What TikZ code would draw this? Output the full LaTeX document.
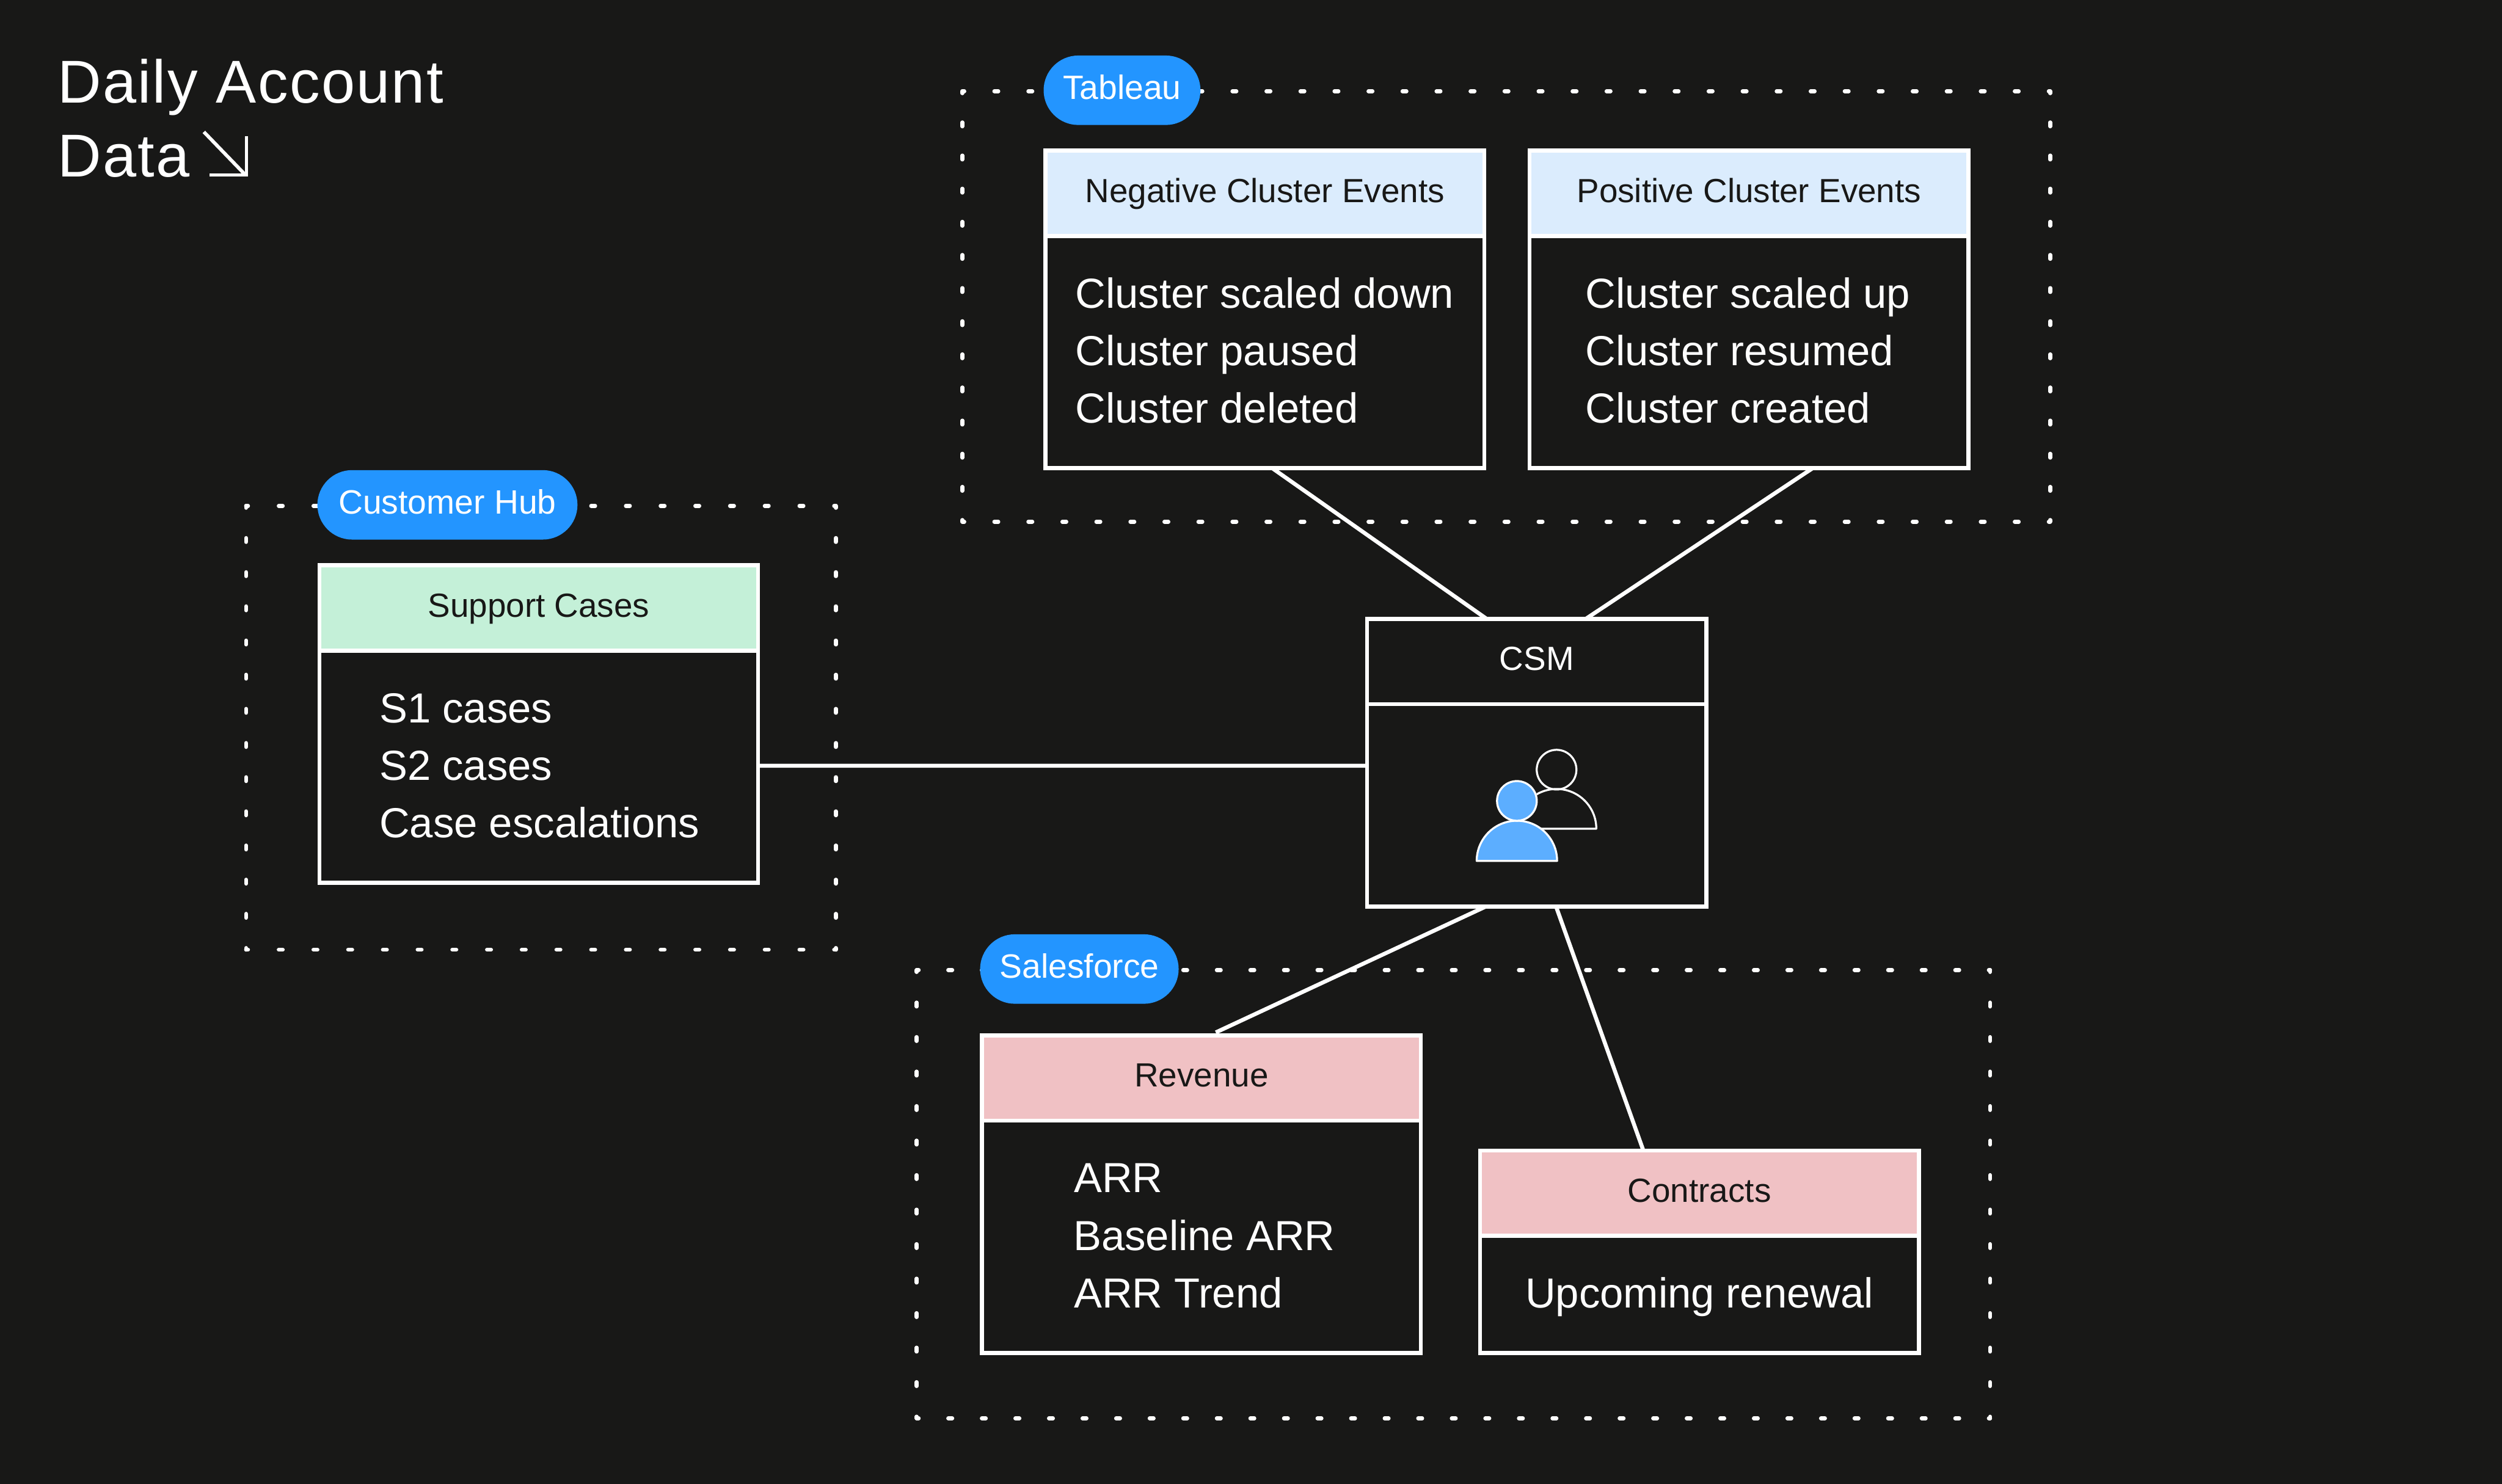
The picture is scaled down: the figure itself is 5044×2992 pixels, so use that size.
\documentclass[tikz,border=0pt]{standalone}
\usepackage{fontspec}
\setmainfont{Liberation Sans}
\newfontfamily\titlefont[LetterSpace=2.4]{Liberation Sans}
\definecolor{bgc}{HTML}{181817}
\definecolor{pillc}{HTML}{2395FF}
\definecolor{iconc}{HTML}{5CAEFF}
\definecolor{headblue}{HTML}{DBECFD}
\definecolor{headgreen}{HTML}{C4F0D8}
\definecolor{headpink}{HTML}{F0C1C4}
\tikzset{
  stroke/.style={draw=white,line width=0.08cm},
  box/.style={rectangle,stroke,fill=bgc,inner sep=0pt,outer sep=0pt,minimum width=8.84cm},
  bodybox/.style={box,minimum height=6.4cm},
  head/.style={box,anchor=north,minimum height=1.72cm,text height=0.50cm,text depth=0.14cm,
    text=bgc,font=\fontsize{19.2pt}{22pt}\selectfont},
  item/.style={inner sep=0pt,outer sep=0pt,anchor=base west,text=white,font=\fontsize{24.1pt}{28pt}\selectfont},
  title/.style={inner sep=0pt,outer sep=0pt,anchor=base west,text=white,font=\titlefont\fontsize{34.7pt}{42pt}\selectfont},
  pill/.style={rectangle,fill=pillc,rounded corners=0.7cm,inner sep=0pt,outer sep=0pt,minimum height=1.4cm,
    text height=0.50cm,text depth=0.14cm,text=white,font=\fontsize{19.35pt}{22pt}\selectfont},
  link/.style={stroke},
  dotline/.style={draw=white,line width=0.08cm,line cap=round,dash phase=0.04cm},
  person/.style={draw=white,line width=0.04cm,line join=round},
}
\newcommand{\dotframe}[6]{%
  \draw[dotline,dash pattern=on 0.08cm off #5cm] (#1,#2) -- (#3,#2);
  \draw[dotline,dash pattern=on 0.08cm off #5cm] (#1,#4) -- (#3,#4);
  \draw[dotline,dash pattern=on 0.08cm off #6cm] (#1,#2) -- (#1,#4);
  \draw[dotline,dash pattern=on 0.08cm off #6cm] (#3,#2) -- (#3,#4);
}
\begin{document}
\begin{tikzpicture}[x=0.01cm,y=-0.01cm]
\useasboundingbox (0,0) rectangle (5044,2992);
\fill[bgc] (0,0) rectangle (5044,2992);

% dotted source frames
\dotframe{1940}{184}{4133}{1052}{0.6053}{0.5877}
\dotframe{496}{1020}{1685}{1915}{0.6194}{0.6085}
\dotframe{1848}{1956}{4012}{2860}{0.5963}{0.6154}

% title
\node[title] (t1) at (116,208) {Daily Account};
\node[title] (t2) at (116,356) {Data};
\draw[white,line width=0.07cm] (411,266) -- (495,353);
\draw[white,line width=0.07cm] (497,275) -- (497,353) -- (422,353);

% Tableau boxes
\node[bodybox] (neg) at (2550,624) {};
\node[head,fill=headblue] (neghead) at (neg.north) {Negative Cluster Events};
\node[item] (neg1) at (2168,621) {Cluster scaled down};
\node[item] (neg2) at (2168,737) {Cluster paused};
\node[item] (neg3) at (2168,853) {Cluster deleted};

\node[bodybox] (pos) at (3526,624) {};
\node[head,fill=headblue] (poshead) at (pos.north) {Positive Cluster Events};
\node[item] (pos1) at (3196,621) {Cluster scaled up};
\node[item] (pos2) at (3196,737) {Cluster resumed};
\node[item] (pos3) at (3196,853) {Cluster created};

% Customer Hub box
\node[bodybox] (sup) at (1086,1460) {};
\node[head,fill=headgreen] (suphead) at (sup.north) {Support Cases};
\node[item] (sup1) at (765,1457) {S1 cases};
\node[item] (sup2) at (765,1573) {S2 cases};
\node[item] (sup3) at (765,1689) {Case escalations};

% Salesforce boxes
\node[bodybox] (rev) at (2422,2408) {};
\node[head,fill=headpink] (revhead) at (rev.north) {Revenue};
\node[item] (rev1) at (2165,2405) {ARR};
\node[item] (rev2) at (2164,2521) {Baseline ARR};
\node[item] (rev3) at (2165,2637) {ARR Trend};

\node[box,minimum height=4.08cm] (con) at (3426,2524) {};
\node[head,fill=headpink] (conhead) at (con.north) {Contracts};
\node[item,anchor=base] (con1) at (3426,2637) {Upcoming renewal};

% CSM box
\node[box,minimum width=6.84cm,minimum height=5.8cm] (csm) at (3098,1538) {};
\node[head,minimum width=6.84cm,text=white] (csmhead) at (csm.north) {CSM};

% people icon
\draw[person] (3058,1671) arc[start angle=180,end angle=0,radius=0.80cm] -- cycle;
\draw[person] (3138,1552) circle[radius=0.40cm];
\fill[bgc] (3058,1615) circle[radius=0.42cm];
\draw[person,fill=iconc] (2977,1736) arc[start angle=180,end angle=0,radius=0.81cm] -- cycle;
\draw[person,fill=iconc] (3058,1615) circle[radius=0.40cm];

% connectors
\draw[link] ([xshift=0.15cm]neg.south) -- ([xshift=-1.01cm]csm.north);
\draw[link] ([xshift=1.28cm]pos.south) -- ([xshift=0.99cm]csm.north);
\draw[link] ([yshift=-0.84cm]sup.east) -- ([yshift=-0.06cm]csm.west);
\draw[link] ([xshift=-1.03cm]csm.south) -- ([xshift=0.29cm,yshift=0.06cm]rev.north);
\draw[link] ([xshift=0.39cm]csm.south) -- ([xshift=-1.13cm]con.north);

% source pills
\node[pill,minimum width=3.16cm] (tab) at (2262,182) {Tableau};
\node[pill,minimum width=5.24cm] (hub) at (902,1018) {Customer Hub};
\node[pill,minimum width=4.00cm] (sf) at (2176,1954) {Salesforce};
\end{tikzpicture}
\end{document}
